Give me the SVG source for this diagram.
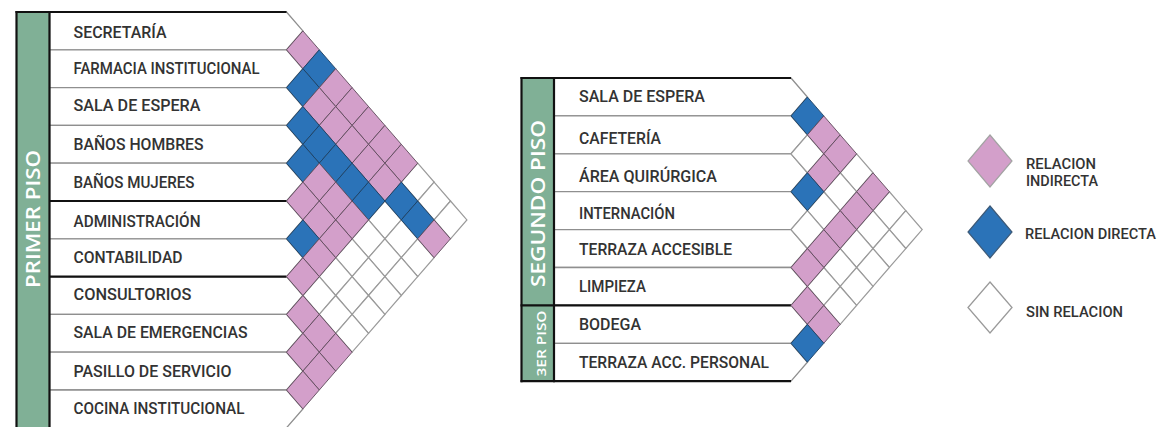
<svg xmlns="http://www.w3.org/2000/svg" xmlns:xlink="http://www.w3.org/1999/xlink" width="1167" height="427" viewBox="0 0 1167 427">
<defs>
<style>
.row{fill:#fff;stroke:#8f8f8f;stroke-width:1.3;stroke-linejoin:miter}
.blk{stroke:#111;stroke-width:2.2;fill:none}
.band{fill:#80b096}
.lbl{font-family:Roboto,"Liberation Sans",sans-serif;font-size:16.5px;font-weight:500;fill:#333}
.lg{font-family:Roboto,"Liberation Sans",sans-serif;font-size:15px;font-weight:500;fill:#333}
.bt{font-family:"Open Sans","Liberation Sans",sans-serif;font-weight:600;fill:#fff}
.p{fill:#d39fca;stroke:#5e4a5a;stroke-width:0.9}
.b{fill:#2b73b8;stroke:#1c3f62;stroke-width:0.9}
.w{fill:#fff;stroke:#9a9a9a;stroke-width:1.2}
</style>
<path id="dm" d="M0,-18.9 L16.4,0 L0,18.9 L-16.4,0Z"/>
</defs>
<rect width="1167" height="427" fill="#fff"/>

<!-- LEFT TABLE -->
<g id="band-primer">
<rect class="band" x="16.5" y="12" width="33" height="416"/>
<text class="bt" font-size="19.5" transform="translate(40,219) rotate(-90)" text-anchor="middle" textLength="138" lengthAdjust="spacingAndGlyphs">PRIMER PISO</text>
</g>
<g id="r-secretaria"><polygon class="row" points="49.5,12 286.5,12 302.9,30.9 286.5,49.8 49.5,49.8"/><text class="lbl" x="73.5" y="38" textLength="93" lengthAdjust="spacingAndGlyphs">SECRETARÍA</text></g>
<g id="r-farmacia"><polygon class="row" points="49.5,49.8 286.5,49.8 302.9,68.7 286.5,87.6 49.5,87.6"/><text class="lbl" x="73.5" y="74" textLength="186" lengthAdjust="spacingAndGlyphs">FARMACIA INSTITUCIONAL</text></g>
<g id="r-sala-espera-1"><polygon class="row" points="49.5,87.6 286.5,87.6 302.9,106.5 286.5,125.4 49.5,125.4"/><text class="lbl" x="73.5" y="111" textLength="127" lengthAdjust="spacingAndGlyphs">SALA DE ESPERA</text></g>
<g id="r-banos-h"><polygon class="row" points="49.5,125.4 286.5,125.4 302.9,144.3 286.5,163.2 49.5,163.2"/><text class="lbl" x="73.5" y="150" textLength="130" lengthAdjust="spacingAndGlyphs">BAÑOS HOMBRES</text></g>
<g id="r-banos-m"><polygon class="row" points="49.5,163.2 286.5,163.2 302.9,182.1 286.5,201 49.5,201"/><text class="lbl" x="73.5" y="188" textLength="121" lengthAdjust="spacingAndGlyphs">BAÑOS MUJERES</text></g>
<g id="r-admin"><polygon class="row" points="49.5,201 286.5,201 302.9,219.9 286.5,238.8 49.5,238.8"/><text class="lbl" x="73.5" y="227" textLength="127" lengthAdjust="spacingAndGlyphs">ADMINISTRACIÓN</text></g>
<g id="r-contab"><polygon class="row" points="49.5,238.8 286.5,238.8 302.9,257.7 286.5,276.6 49.5,276.6"/><text class="lbl" x="73.5" y="263" textLength="109" lengthAdjust="spacingAndGlyphs">CONTABILIDAD</text></g>
<g id="r-consult"><polygon class="row" points="49.5,276.6 286.5,276.6 302.9,295.5 286.5,314.4 49.5,314.4"/><text class="lbl" x="73.5" y="300" textLength="118" lengthAdjust="spacingAndGlyphs">CONSULTORIOS</text></g>
<g id="r-emerg"><polygon class="row" points="49.5,314.4 286.5,314.4 302.9,333.3 286.5,352.2 49.5,352.2"/><text class="lbl" x="73.5" y="338" textLength="174" lengthAdjust="spacingAndGlyphs">SALA DE EMERGENCIAS</text></g>
<g id="r-pasillo"><polygon class="row" points="49.5,352.2 286.5,352.2 302.9,371.1 286.5,390 49.5,390"/><text class="lbl" x="73.5" y="377" textLength="158" lengthAdjust="spacingAndGlyphs">PASILLO DE SERVICIO</text></g>
<g id="r-cocina"><polygon class="row" points="49.5,390 286.5,390 302.9,408.9 286.5,427.8 49.5,427.8"/><text class="lbl" x="73.5" y="414" textLength="171" lengthAdjust="spacingAndGlyphs">COCINA INSTITUCIONAL</text></g>
<g id="frame-left">
<line class="blk" x1="16.5" y1="11" x2="16.5" y2="428"/>
<line class="blk" x1="49.5" y1="11" x2="49.5" y2="428"/>
<line class="blk" x1="15.5" y1="12" x2="286.5" y2="12"/>
<line class="blk" x1="49.5" y1="201" x2="286.5" y2="201"/>
<line class="blk" x1="49.5" y1="276.6" x2="286.5" y2="276.6"/>
</g>
<g id="matrix-left">
<use href="#dm" class="w" x="417.7" y="182.1"/>
<use href="#dm" class="w" x="434.1" y="201"/>
<use href="#dm" class="w" x="450.5" y="219.9"/>
<use href="#dm" class="w" x="384.9" y="219.9"/>
<use href="#dm" class="w" x="401.3" y="238.8"/>
<use href="#dm" class="w" x="417.7" y="257.7"/>
<use href="#dm" class="w" x="368.5" y="238.8"/>
<use href="#dm" class="w" x="384.9" y="257.7"/>
<use href="#dm" class="w" x="401.3" y="276.6"/>
<use href="#dm" class="w" x="352.1" y="257.7"/>
<use href="#dm" class="w" x="368.5" y="276.6"/>
<use href="#dm" class="w" x="384.9" y="295.5"/>
<use href="#dm" class="w" x="335.7" y="276.6"/>
<use href="#dm" class="w" x="352.1" y="295.5"/>
<use href="#dm" class="w" x="368.5" y="314.4"/>
<use href="#dm" class="w" x="319.3" y="295.5"/>
<use href="#dm" class="w" x="335.7" y="314.4"/>
<use href="#dm" class="w" x="352.1" y="333.3"/>
<use href="#dm" class="p" x="302.9" y="49.8"/>
<use href="#dm" class="b" x="319.3" y="68.7"/>
<use href="#dm" class="p" x="335.7" y="87.6"/>
<use href="#dm" class="p" x="352.1" y="106.5"/>
<use href="#dm" class="p" x="368.5" y="125.4"/>
<use href="#dm" class="p" x="384.9" y="144.3"/>
<use href="#dm" class="p" x="401.3" y="163.2"/>
<use href="#dm" class="b" x="302.9" y="87.6"/>
<use href="#dm" class="p" x="319.3" y="106.5"/>
<use href="#dm" class="p" x="335.7" y="125.4"/>
<use href="#dm" class="p" x="352.1" y="144.3"/>
<use href="#dm" class="p" x="368.5" y="163.2"/>
<use href="#dm" class="p" x="384.9" y="182.1"/>
<use href="#dm" class="b" x="401.3" y="201"/>
<use href="#dm" class="b" x="417.7" y="219.9"/>
<use href="#dm" class="p" x="434.1" y="238.8"/>
<use href="#dm" class="b" x="302.9" y="125.4"/>
<use href="#dm" class="b" x="319.3" y="144.3"/>
<use href="#dm" class="b" x="335.7" y="163.2"/>
<use href="#dm" class="b" x="352.1" y="182.1"/>
<use href="#dm" class="b" x="368.5" y="201"/>
<use href="#dm" class="b" x="302.9" y="163.2"/>
<use href="#dm" class="p" x="319.3" y="182.1"/>
<use href="#dm" class="p" x="335.7" y="201"/>
<use href="#dm" class="p" x="352.1" y="219.9"/>
<use href="#dm" class="p" x="302.9" y="201"/>
<use href="#dm" class="p" x="319.3" y="219.9"/>
<use href="#dm" class="p" x="335.7" y="238.8"/>
<use href="#dm" class="b" x="302.9" y="238.8"/>
<use href="#dm" class="p" x="319.3" y="257.7"/>
<use href="#dm" class="p" x="302.9" y="276.6"/>
<use href="#dm" class="p" x="302.9" y="314.4"/>
<use href="#dm" class="p" x="319.3" y="333.3"/>
<use href="#dm" class="p" x="335.7" y="352.2"/>
<use href="#dm" class="p" x="302.9" y="352.2"/>
<use href="#dm" class="p" x="319.3" y="371.1"/>
<use href="#dm" class="p" x="302.9" y="390"/>
</g>

<!-- RIGHT TABLE -->
<g id="band-segundo">
<rect class="band" x="521.5" y="78" width="32.5" height="303.2"/>
<text class="bt" font-size="19.5" transform="translate(545,203.5) rotate(-90)" text-anchor="middle" textLength="167" lengthAdjust="spacingAndGlyphs">SEGUNDO PISO</text>
</g>
<g id="band-tercer">
<text class="bt" font-size="13" font-weight="700" transform="translate(545.5,343.5) rotate(-90)" text-anchor="middle" textLength="66" lengthAdjust="spacingAndGlyphs">3ER PISO</text>
</g>
<g id="r2-sala-espera"><polygon class="row" points="554,78 791,78 807.4,96.95 791,115.9 554,115.9"/><text class="lbl" x="579" y="102.3" textLength="126" lengthAdjust="spacingAndGlyphs">SALA DE ESPERA</text></g>
<g id="r2-cafeteria"><polygon class="row" points="554,115.9 791,115.9 807.4,134.85 791,153.8 554,153.8"/><text class="lbl" x="579" y="143.5" textLength="82" lengthAdjust="spacingAndGlyphs">CAFETERÍA</text></g>
<g id="r2-quirurgica"><polygon class="row" points="554,153.8 791,153.8 807.4,172.75 791,191.7 554,191.7"/><text class="lbl" x="579" y="181.5" textLength="138" lengthAdjust="spacingAndGlyphs">ÁREA QUIRÚRGICA</text></g>
<g id="r2-internacion"><polygon class="row" points="554,191.7 791,191.7 807.4,210.65 791,229.6 554,229.6"/><text class="lbl" x="579" y="219" textLength="96" lengthAdjust="spacingAndGlyphs">INTERNACIÓN</text></g>
<g id="r2-terraza"><polygon class="row" points="554,229.6 791,229.6 807.4,248.55 791,267.5 554,267.5"/><text class="lbl" x="579" y="255" textLength="153" lengthAdjust="spacingAndGlyphs">TERRAZA ACCESIBLE</text></g>
<g id="r2-limpieza"><polygon class="row" points="554,267.5 791,267.5 807.4,286.45 791,305.4 554,305.4"/><text class="lbl" x="579" y="292.3" textLength="67" lengthAdjust="spacingAndGlyphs">LIMPIEZA</text></g>
<g id="r3-bodega"><polygon class="row" points="554,305.4 791,305.4 807.4,324.35 791,343.3 554,343.3"/><text class="lbl" x="579" y="330" textLength="62" lengthAdjust="spacingAndGlyphs">BODEGA</text></g>
<g id="r3-terraza-personal"><polygon class="row" points="554,343.3 791,343.3 807.4,362.25 791,381.2 554,381.2"/><text class="lbl" x="579" y="368.3" textLength="190" lengthAdjust="spacingAndGlyphs">TERRAZA ACC. PERSONAL</text></g>
<g id="frame-right">
<line class="blk" x1="521.5" y1="77" x2="521.5" y2="382.3"/>
<line class="blk" x1="554" y1="77" x2="554" y2="382.3"/>
<line class="blk" x1="520.5" y1="78" x2="791" y2="78"/>
<line class="blk" x1="520.5" y1="305.4" x2="791" y2="305.4"/>
<line class="blk" x1="520.5" y1="381.2" x2="791" y2="381.2"/>
</g>
<g id="matrix-right">
<use href="#dm" class="w" x="856.6" y="172.75"/>
<use href="#dm" class="w" x="889.4" y="210.65"/>
<use href="#dm" class="w" x="905.8" y="229.6"/>
<use href="#dm" class="w" x="807.4" y="153.8"/>
<use href="#dm" class="w" x="840.2" y="191.7"/>
<use href="#dm" class="w" x="873" y="229.6"/>
<use href="#dm" class="w" x="889.4" y="248.55"/>
<use href="#dm" class="w" x="823.8" y="210.65"/>
<use href="#dm" class="w" x="856.6" y="248.55"/>
<use href="#dm" class="w" x="873" y="267.5"/>
<use href="#dm" class="w" x="807.4" y="229.6"/>
<use href="#dm" class="w" x="840.2" y="267.5"/>
<use href="#dm" class="w" x="856.6" y="286.45"/>
<use href="#dm" class="w" x="823.8" y="286.45"/>
<use href="#dm" class="w" x="840.2" y="305.4"/>
<use href="#dm" class="b" x="807.4" y="115.9"/>
<use href="#dm" class="p" x="823.8" y="134.85"/>
<use href="#dm" class="p" x="840.2" y="153.8"/>
<use href="#dm" class="p" x="873" y="191.7"/>
<use href="#dm" class="p" x="823.8" y="172.75"/>
<use href="#dm" class="p" x="856.6" y="210.65"/>
<use href="#dm" class="b" x="807.4" y="191.7"/>
<use href="#dm" class="p" x="840.2" y="229.6"/>
<use href="#dm" class="p" x="823.8" y="248.55"/>
<use href="#dm" class="p" x="807.4" y="267.5"/>
<use href="#dm" class="p" x="807.4" y="305.4"/>
<use href="#dm" class="p" x="823.8" y="324.35"/>
<use href="#dm" class="b" x="807.4" y="343.3"/>
</g>

<!-- LEGEND -->
<g id="legend-indirecta">
<polygon points="990,135 1012,161 990,187 968,161" fill="#d39fca" stroke="#a3a3a3" stroke-width="1.2"/>
<text class="lg" x="1026" y="169" textLength="70" lengthAdjust="spacingAndGlyphs">RELACION</text>
<text class="lg" x="1026" y="186" textLength="72" lengthAdjust="spacingAndGlyphs">INDIRECTA</text>
</g>
<g id="legend-directa">
<polygon points="990,206 1012,232 990,258 968,232" fill="#2b73b8" stroke="#3d5a78" stroke-width="1.2"/>
<text class="lg" x="1025" y="238.5" textLength="131" lengthAdjust="spacingAndGlyphs">RELACION DIRECTA</text>
</g>
<g id="legend-sin">
<polygon points="990,282 1012,307.5 990,333 968,307.5" fill="#fff" stroke="#9a9a9a" stroke-width="1.3"/>
<text class="lg" x="1026" y="317" textLength="97" lengthAdjust="spacingAndGlyphs">SIN RELACION</text>
</g>
</svg>
